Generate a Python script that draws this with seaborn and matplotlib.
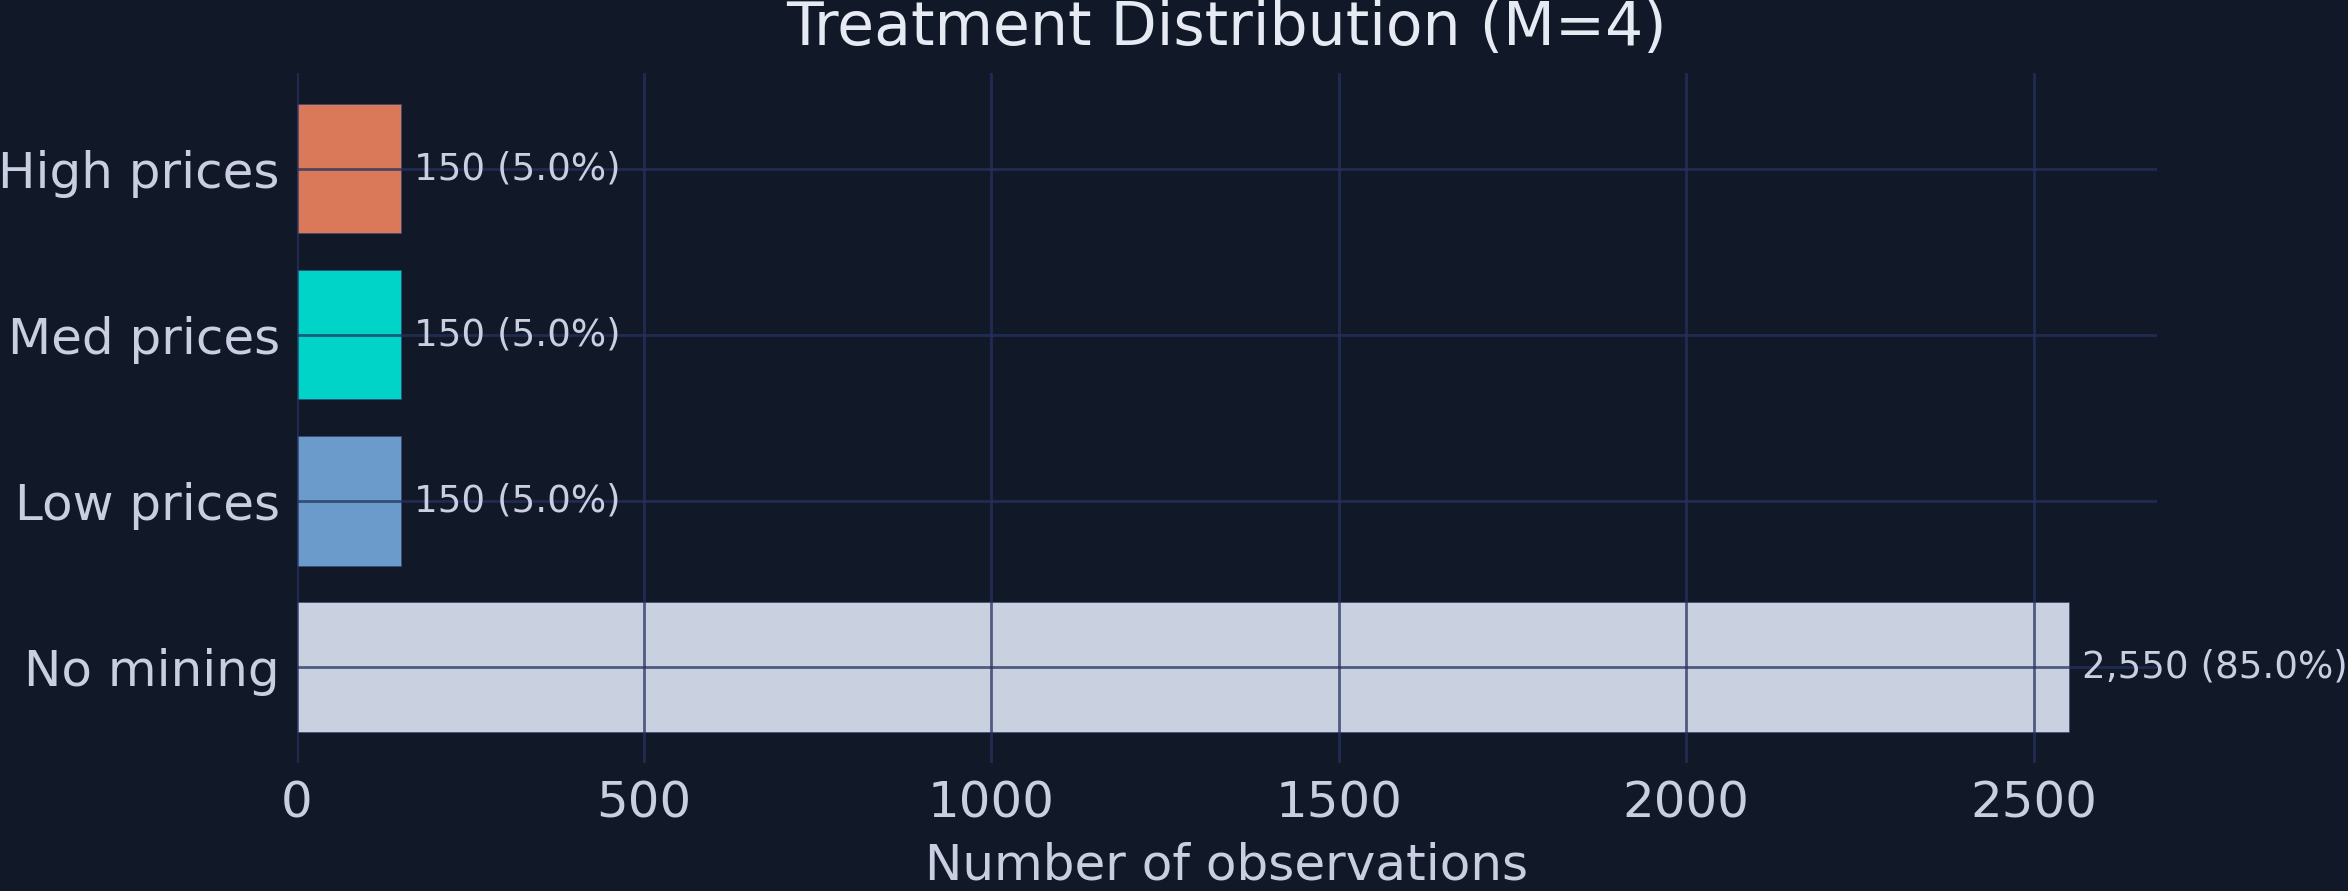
import matplotlib
matplotlib.use("Agg")
import matplotlib.pyplot as plt
import seaborn as sns
import pandas as pd

categories = ["High prices", "Med prices", "Low prices", "No mining"]
counts = [150, 150, 150, 2550]
percents = [5.0, 5.0, 5.0, 85.0]
bar_colors = ["#d9795a", "#00d4c8", "#6a9bcb", "#c9d0e0"]
title = "Treatment Distribution (M=4)"
xlabel = "Number of observations"

BG = "#111827"
TXT = "#c9cfe0"
GRID = "#25325e"

sns.set_theme(style="dark")
plt.rcParams["font.family"] = ["DejaVu Sans"]

fig = plt.figure(figsize=(23.48, 8.91), dpi=100, facecolor=BG)
ax = fig.add_axes([0.1263, 0.1437, 0.9187 - 0.1263, 0.9186 - 0.1437])
ax.set_facecolor(BG)

df = pd.DataFrame({"cat": categories, "n": counts})
sns.barplot(data=df, y="cat", x="n", hue="cat", order=categories,
            palette=dict(zip(categories, bar_colors)), legend=False,
            orient="h", width=0.78, ax=ax, saturation=1,
            edgecolor="#3a4a7a", linewidth=0.5)

ax.set_xlim(0, max(counts) * 1.05)
ax.set_ylim(3.579, -0.579)

for i, (c, p) in enumerate(zip(counts, percents)):
    ax.annotate(f"{c:,} ({p:.1f}%)", xy=(c, i), xytext=(9.5, 0),
                textcoords="offset points", va="center", ha="left",
                fontsize=26.8, color=TXT)

ax.set_axisbelow(False)
ax.grid(True, color=GRID, alpha=0.75, linewidth=2)
for s in ax.spines.values():
    s.set_visible(False)
ax.tick_params(axis="both", length=0, pad=12, labelsize=36, colors=TXT)
ax.set_ylabel("")
ax.set_xlabel(xlabel, fontsize=36, color=TXT, labelpad=10)
ax.set_title(title, fontsize=43.2, color="#e6eaf2", pad=20)

fig.savefig("out.png", dpi=100, facecolor=BG)
